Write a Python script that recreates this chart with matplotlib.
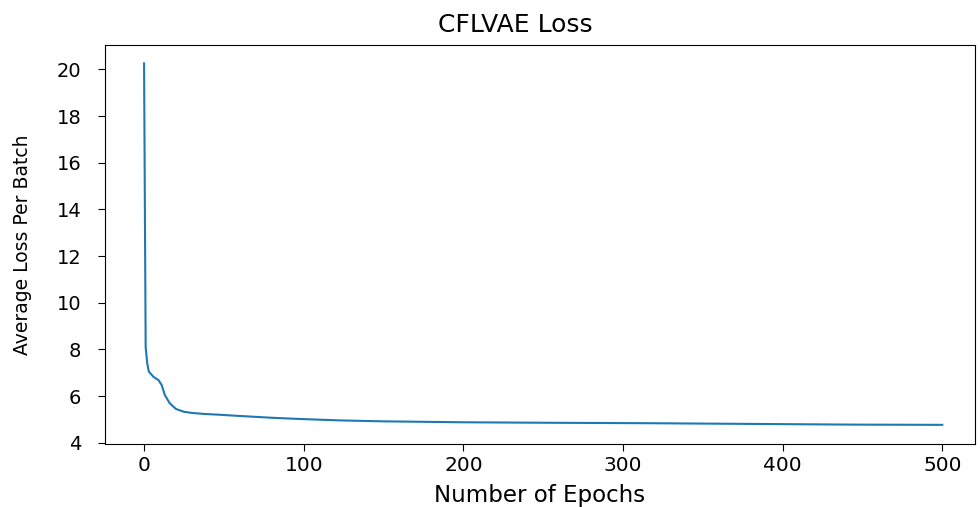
import numpy as np
from matplotlib import pyplot as plt

# values
epochs = [0, 1, 2, 3, 6, 9, 11, 13, 16, 20, 25, 30, 37, 48, 60, 81, 98, 123, 150, 200, 250, 317, 380, 444, 500]
loss = [20.26, 8.1, 7.4, 7.05, 6.82, 6.69, 6.48, 6.05, 5.70, 5.45, 5.33, 5.28, 5.24, 5.20, 5.15, 5.07, 5.02, 4.96,
        4.92, 4.88, 4.86, 4.84, 4.81, 4.78, 4.77]
xticks = [0, 100, 200, 300, 400, 500]
yticks = [4, 6, 8, 10, 12, 14, 16, 18, 20]

fig = plt.figure(figsize=(9.8, 5.07), dpi=100)
ax = fig.add_axes([0.1071, 0.1243, 0.8878, 0.787])
ax.plot(epochs, loss, color='#1f77b4', lw=1.5)

ax.set_xlim(-24.5, 520.5)
ax.set_ylim(3.95, 21.05)
ax.set_xticks(xticks)
ax.set_yticks(yticks)
ax.tick_params(axis='x', labelsize=14.5, length=5, pad=4)
ax.tick_params(axis='y', labelsize=14, length=5, pad=12)

ax.set_title('CFLVAE Loss', fontsize=18, x=0.472, pad=9.5)
ax.set_xlabel('Number of Epochs', fontsize=16.5, labelpad=6)
ax.set_ylabel('Average Loss Per Batch', fontsize=13.5, family='Liberation Sans Narrow')
ax.yaxis.set_label_coords(-0.084, 0.5)

fig.savefig('out.png', dpi=100)
